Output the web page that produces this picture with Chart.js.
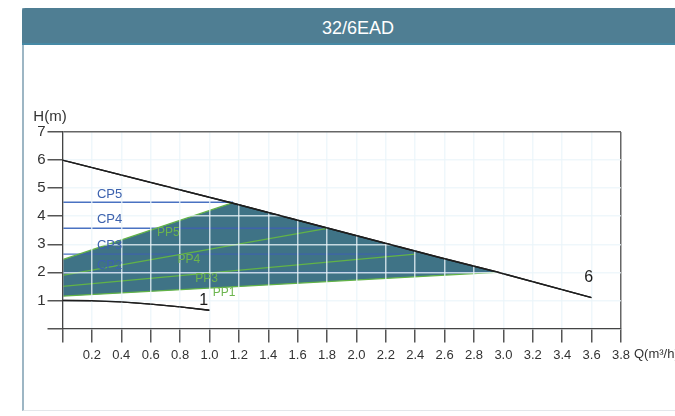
<!DOCTYPE html>
<html>
<head>
<meta charset="utf-8">
<title>32/6EAD</title>
<script src="https://cdn.jsdelivr.net/npm/chart.js@4.4.1/dist/chart.umd.min.js"></script>
<style>
  html, body { margin: 0; padding: 0; background: #fff; }
  body { width: 675px; height: 416px; position: relative; overflow: hidden; font-family: "Liberation Sans", Arial, sans-serif; }
  #panel { position: absolute; left: 22px; top: 8px; width: 670px; height: 402px; border-left: 2px solid #9db6c4; border-bottom: 1px solid #e3e7ea; }
  #head { position: absolute; left: 22px; top: 8px; width: 672px; height: 35px; background: #4f7e93; border-bottom: 2px solid #4689a5; border-top-left-radius: 3px; color: #fff; font-size: 18px; line-height: 40px; text-align: center; }
  #curve { position: absolute; left: 0; top: 0; }
</style>
</head>
<body>
<div id="panel"></div>
<div id="head">32/6EAD</div>
<canvas id="curve" width="675" height="416"></canvas>
<script>
// axis tick labels
const qTickLabels = ['', '0.2', '0.4', '0.6', '0.8', '1.0', '1.2', '1.4', '1.6', '1.8', '2.0',
                     '2.2', '2.4', '2.6', '2.8', '3.0', '3.2', '3.4', '3.6', '3.8'];
const hTickLabels = ['', '1', '2', '3', '4', '5', '6', '7'];

// max speed curve (6) and min speed curve (1)
const maxQ = [0, 1.16, 2.56, 2.95, 3.6];
const maxH = [6.0, 4.46, 2.54, 2.02, 1.1];
const minQ = [0, 0.2, 0.4, 0.6, 0.8, 1.0];
const minH = [1.0, 0.99, 0.95, 0.87, 0.77, 0.65];

// working range (shaded)
const areaQ = [0, 1.16, 2.95, 0, 0];
const areaH = [2.45, 4.48, 2.0, 1.15, 2.45];

// constant pressure lines
const cpNames = ['CP2', 'CP3', 'CP4', 'CP5'];
const cpH = [2.0, 2.65, 3.57, 4.5];
const cpSplitQ = [0, 0.11, 0.64, 1.16];
const cpEndQ = [2.95, 2.4, 1.8, 1.16];
const cpLabelQ = [0.32, 0.32, 0.32, 0.32];
const cpLabelH = [2.25, 2.96, 3.88, 4.77];

// proportional pressure lines
const ppNames = ['PP1', 'PP3', 'PP4', 'PP5'];
const ppStartH = [1.15, 1.5, 1.89, 2.45];
const ppEndQ = [2.95, 2.4, 1.8, 1.16];
const ppEndH = [2.0, 2.65, 3.57, 4.48];
const ppLabelQ = [1.1, 0.98, 0.86, 0.72];
const ppLabelH = [1.29, 1.79, 2.46, 3.42];

// curve end labels
const curveNames = ['1', '6'];
const curveLabelQ = [0.96, 3.58];
const curveLabelH = [1.01, 1.83];

const FONT = '"Liberation Sans", Arial, sans-serif';
const CP_BLUE = '#4a72c2';
const CP_INNER = '#3f63aa';
const PP_GREEN = '#62b347';
const GRID = 'rgba(235,245,250,0.78)';

const pts = (xs, ys) => xs.map((q, i) => ({ x: q, y: ys[i] }));

const datasets = [];
datasets.push({
  data: pts(areaQ, areaH),
  borderWidth: 0,
  backgroundColor: '#3f7386',
  fill: 'shape',
  order: 10
});
cpNames.forEach((n, i) => {
  datasets.push({
    data: [{ x: 0, y: cpH[i] }, { x: cpSplitQ[i], y: cpH[i] }, { x: cpEndQ[i], y: cpH[i] }],
    borderWidth: 1.4,
    borderColor: CP_BLUE,
    segment: { borderColor: c => c.p0DataIndex === 0 ? CP_BLUE : CP_INNER },
    fill: false,
    order: 6
  });
});
ppNames.forEach((n, i) => {
  datasets.push({
    data: [{ x: 0, y: ppStartH[i] }, { x: ppEndQ[i], y: ppEndH[i] }],
    borderWidth: 1.3,
    borderColor: PP_GREEN,
    fill: false,
    order: 5
  });
});
// the two speed curves sit above the grid layer
datasets.push({ data: pts(maxQ, maxH), borderWidth: 1.4, borderColor: '#1e1e1e', fill: false, order: 1, onTop: true });
datasets.push({ data: pts(minQ, minH), borderWidth: 1.4, borderColor: '#1e1e1e', fill: false, order: 1, onTop: true });

const curveLabels = {
  id: 'curveLabels',
  afterDraw(chart) {
    const { ctx, scales: { x, y } } = chart;
    chart.data.datasets.forEach((ds, i) => {
      if (ds.onTop) chart.getDatasetMeta(i).dataset.draw(ctx, chart.chartArea);
    });
    ctx.save();
    ctx.textAlign = 'center';
    ctx.textBaseline = 'middle';
    ctx.font = '13px ' + FONT;
    ctx.fillStyle = '#3d62ae';
    cpNames.forEach((n, i) => ctx.fillText(n, x.getPixelForValue(cpLabelQ[i]), y.getPixelForValue(cpLabelH[i])));
    ctx.font = '12px ' + FONT;
    ctx.fillStyle = '#6cb54e';
    ppNames.forEach((n, i) => ctx.fillText(n, x.getPixelForValue(ppLabelQ[i]), y.getPixelForValue(ppLabelH[i])));
    ctx.font = '16px ' + FONT;
    ctx.fillStyle = '#1a1a1a';
    curveNames.forEach((n, i) => ctx.fillText(n, x.getPixelForValue(curveLabelQ[i]), y.getPixelForValue(curveLabelH[i])));
    // axis titles
    ctx.fillStyle = '#333';
    ctx.font = '15px ' + FONT;
    ctx.fillText('H(m)', 50, 117);
    ctx.textAlign = 'left';
    ctx.font = '13px ' + FONT;
    ctx.fillText('Q(m³/h)', 634, y.bottom + 26);
    ctx.restore();
  }
};

new Chart(document.getElementById('curve').getContext('2d'), {
  type: 'line',
  data: { datasets: datasets },
  options: {
    responsive: false,
    animation: false,
    devicePixelRatio: 1,
    layout: { padding: { left: 0, right: 54, top: 132, bottom: 47.5 } },
    elements: { point: { radius: 0 }, line: { tension: 0 } },
    plugins: { legend: { display: false }, tooltip: { enabled: false } },
    scales: {
      x: {
        type: 'linear',
        min: 0,
        max: 3.8,
        z: 1,
        afterFit: s => { s.height = 40; },
        border: { color: '#444', width: 1.3, z: 2 },
        grid: {
          z: 1,
          color: c => c.tick && Math.abs(c.tick.value - 3.8) < 1e-6 ? '#666' : GRID,
          lineWidth: 1.5,
          tickLength: 14,
          tickColor: '#555'
        },
        ticks: {
          stepSize: 0.2,
          autoSkip: false,
          maxRotation: 0,
          padding: 5,
          color: '#333',
          font: { size: 13, family: FONT },
          callback: (v, i) => qTickLabels[i]
        }
      },
      y: {
        type: 'linear',
        min: 0,
        max: 7,
        z: 1,
        afterFit: s => { s.width = 62.5; },
        border: { color: '#444', width: 1.3, z: 2 },
        grid: {
          z: 1,
          color: c => c.tick && c.tick.value === 7 ? '#666' : GRID,
          lineWidth: 1.5,
          tickLength: 15,
          tickColor: '#555'
        },
        ticks: {
          stepSize: 1,
          padding: 2,
          color: '#333',
          font: { size: 15, family: FONT },
          callback: (v, i) => hTickLabels[i]
        }
      }
    }
  },
  plugins: [curveLabels]
});
</script>
</body>
</html>
